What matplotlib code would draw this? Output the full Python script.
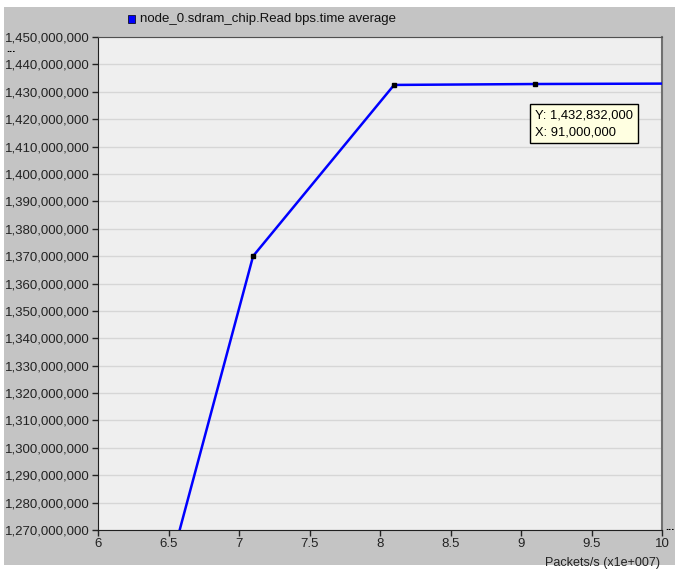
import matplotlib
matplotlib.use("Agg")
import matplotlib.pyplot as plt
from matplotlib.patches import Rectangle
from matplotlib.ticker import FuncFormatter

x_vals = [6.1, 7.1, 8.1, 9.1, 10.1]
y_vals = [1178000000, 1370000000, 1432500000, 1432832000, 1433000000]
x_ticks = [6, 6.5, 7, 7.5, 8, 8.5, 9, 9.5, 10]
x_tick_labels = ["6", "6.5", "7", "7.5", "8", "8.5", "9", "9.5", "10"]
y_ticks = list(range(1270000000, 1450000001, 10000000))
series_name = "node_0.sdram_chip.Read bps.time average"
tip_y = "Y: 1,432,832,000"
tip_x = "X: 91,000,000"

plt.rcParams['font.family'] = ['Liberation Sans', 'DejaVu Sans']

fig = plt.figure(figsize=(6.75, 5.7), dpi=100)
fig.patch.set_facecolor('white')
# gray panel background
fig.add_artist(Rectangle((4/675, 5/570), 671/675, 558/570, transform=fig.transFigure,
                         facecolor='#c4c4c4', edgecolor='none', zorder=-10))

ax = fig.add_axes([98/675, 40/570, 564/675, 493/570])
ax.set_facecolor('#efefef')
ax.plot(x_vals, y_vals, color='#0000ff', lw=1.8, zorder=3)
ax.plot(x_vals, y_vals, ls='none', marker='s', ms=3, color='black', zorder=4)
ax.set_xlim(6, 10)
ax.set_ylim(1270000000, 1450000000)
ax.set_xticks(x_ticks)
ax.set_xticklabels(x_tick_labels)
ax.set_yticks(y_ticks)
ax.yaxis.set_major_formatter(FuncFormatter(lambda v, p: f"{int(round(v)):,}"))
ax.grid(axis='y', color='#d6d6d6', lw=1)
ax.set_axisbelow(True)
for s in ['left', 'bottom']:
    ax.spines[s].set_color('#202020')
ax.spines['top'].set_color('#505050')
ax.spines['right'].set_color('#707070')
ax.spines['right'].set_linewidth(1.5)
ax.tick_params(axis='both', direction='out', length=4, width=1, labelsize=9.5, colors='#222222', pad=2)

# tooltip
ax.text(0.775, 0.824, tip_y + "\n" + tip_x, transform=ax.transAxes, fontsize=9.3,
        va='center', ha='left', linespacing=1.55,
        bbox=dict(boxstyle='square,pad=0.4', facecolor='#ffffe1', edgecolor='black', lw=1), zorder=6)

# legend
fig.add_artist(Rectangle((128/675, 1-(23/570)), 7/675, 8/570, transform=fig.transFigure,
                         facecolor='#0000ff', edgecolor='black', lw=0.5))
fig.text(140/675, 1-(19/570), series_name, fontsize=9.5, va='center', ha='left', color='#111111')

# ellipses
fig.text(6/675, 1-(49/570), "...", fontsize=8, fontweight='bold', va='center', ha='left')
fig.text(665/675, 1-(527/570), "...", fontsize=8, fontweight='bold', va='center', ha='left')

fig.text(660/675, 1-(563/570), "Packets/s (x1e+007)", fontsize=9, va='center', ha='right', color='#222222')

fig.savefig("out.png", dpi=100)
